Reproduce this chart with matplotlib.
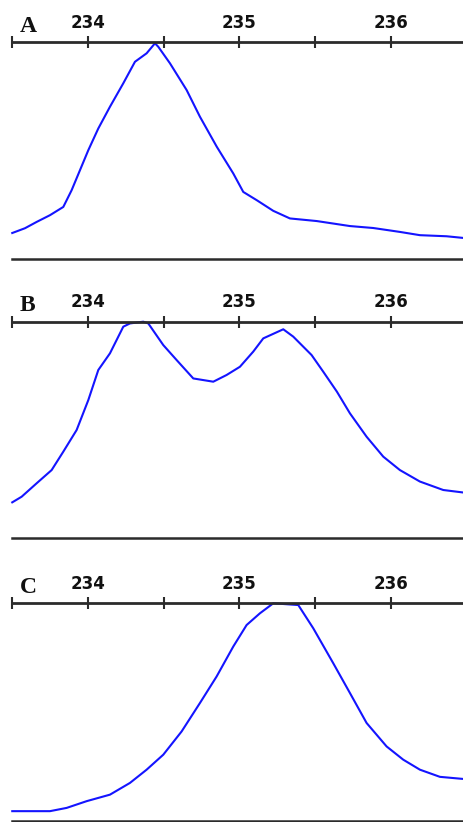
import matplotlib
matplotlib.use("Agg")
import matplotlib.pyplot as plt
import numpy as np

# ---- data (m/z vs relative intensity) ----
xA = [233.50, 233.584, 233.661, 233.749, 233.837, 233.892, 233.947, 234.002, 234.068,
      234.145, 234.233, 234.310, 234.387, 234.442, 234.464, 234.541, 234.651, 234.739,
      234.850, 234.959, 235.025, 235.114, 235.223, 235.333, 235.510, 235.729, 235.883,
      236.059, 236.191, 236.367, 236.482]
yA = [0.121, 0.143, 0.172, 0.203, 0.241, 0.318, 0.410, 0.502, 0.602,
      0.702, 0.810, 0.909, 0.948, 0.994, 0.978, 0.902, 0.779, 0.656,
      0.518, 0.395, 0.310, 0.272, 0.223, 0.188, 0.176, 0.153, 0.144,
      0.126, 0.111, 0.106, 0.098]

xB = [233.50, 233.562, 233.661, 233.760, 233.837, 233.925, 234.002, 234.068, 234.145,
      234.233, 234.277, 234.365, 234.398, 234.497, 234.585, 234.695, 234.827, 234.915,
      235.003, 235.091, 235.157, 235.289, 235.355, 235.476, 235.553, 235.643, 235.729,
      235.839, 235.949, 236.059, 236.191, 236.345, 236.482]
yB = [0.166, 0.192, 0.254, 0.315, 0.400, 0.500, 0.638, 0.777, 0.854,
      0.977, 0.992, 1.000, 0.992, 0.892, 0.823, 0.738, 0.723, 0.754,
      0.792, 0.862, 0.923, 0.965, 0.931, 0.846, 0.769, 0.677, 0.577,
      0.469, 0.377, 0.315, 0.262, 0.223, 0.211]

xC = [233.50, 233.749, 233.859, 233.991, 234.145, 234.277, 234.387, 234.497, 234.618,
      234.739, 234.849, 234.959, 235.047, 235.135, 235.223, 235.388, 235.487, 235.619,
      235.729, 235.839, 235.971, 236.081, 236.191, 236.323, 236.482]
yC = [0.043, 0.043, 0.058, 0.089, 0.119, 0.173, 0.234, 0.303, 0.410,
      0.541, 0.663, 0.801, 0.900, 0.954, 1.000, 0.992, 0.885, 0.724,
      0.587, 0.449, 0.341, 0.280, 0.234, 0.201, 0.191]

panel_labels = ["A", "B", "C"]
major_ticks = [234, 235, 236]
minor_ticks = [233.5, 234.5, 235.5]
x_min, x_max = 233.5, 236.482

# ---- layout (pixels) ----
W, H = 464, 822
fig = plt.figure(figsize=(W / 100, H / 100), dpi=100)
fig.patch.set_facecolor("white")

panels = [(42.0, 259.3, xA, yA), (321.7, 538.3, xB, yB), (603.3, 820.5, xC, yC)]
left_px = 12.25
axis_col = "#2b2b2b"

for (top, bot, xs, ys), lab in zip(panels, panel_labels):
    ax = fig.add_axes([left_px / W, 1 - bot / H, 1 - left_px / W, (bot - top) / H])
    ax.plot(xs, ys, color="#1414ff", lw=1.5, clip_on=False, solid_joinstyle="round")
    ax.set_xlim(x_min, x_max)
    ax.set_ylim(0, 1)
    ax.set_yticks([])
    for s in ["left", "right"]:
        ax.spines[s].set_visible(False)
    ax.spines["top"].set_color(axis_col)
    ax.spines["top"].set_linewidth(2.0)
    ax.spines["bottom"].set_color(axis_col)
    ax.spines["bottom"].set_linewidth(1.8)
    ax.xaxis.set_ticks_position("top")
    ax.set_xticks(major_ticks)
    ax.set_xticklabels([str(t) for t in major_ticks])
    ax.set_xticks(minor_ticks, minor=True)
    ax.tick_params(axis="x", which="both", direction="inout", length=8.6, width=1.5,
                   color=axis_col, pad=3.2, labelsize=12, labelcolor="#111111")
    for t in ax.get_xticklabels():
        t.set_fontweight("bold")
    ax.patch.set_alpha(0)
    fig.text(20 / W, 1 - (top - 10.3) / H, lab, ha="left", va="baseline",
             fontsize=17, fontweight="bold", family="Liberation Serif", color="#111111")

fig.savefig("out.png", dpi=100, facecolor="white")
